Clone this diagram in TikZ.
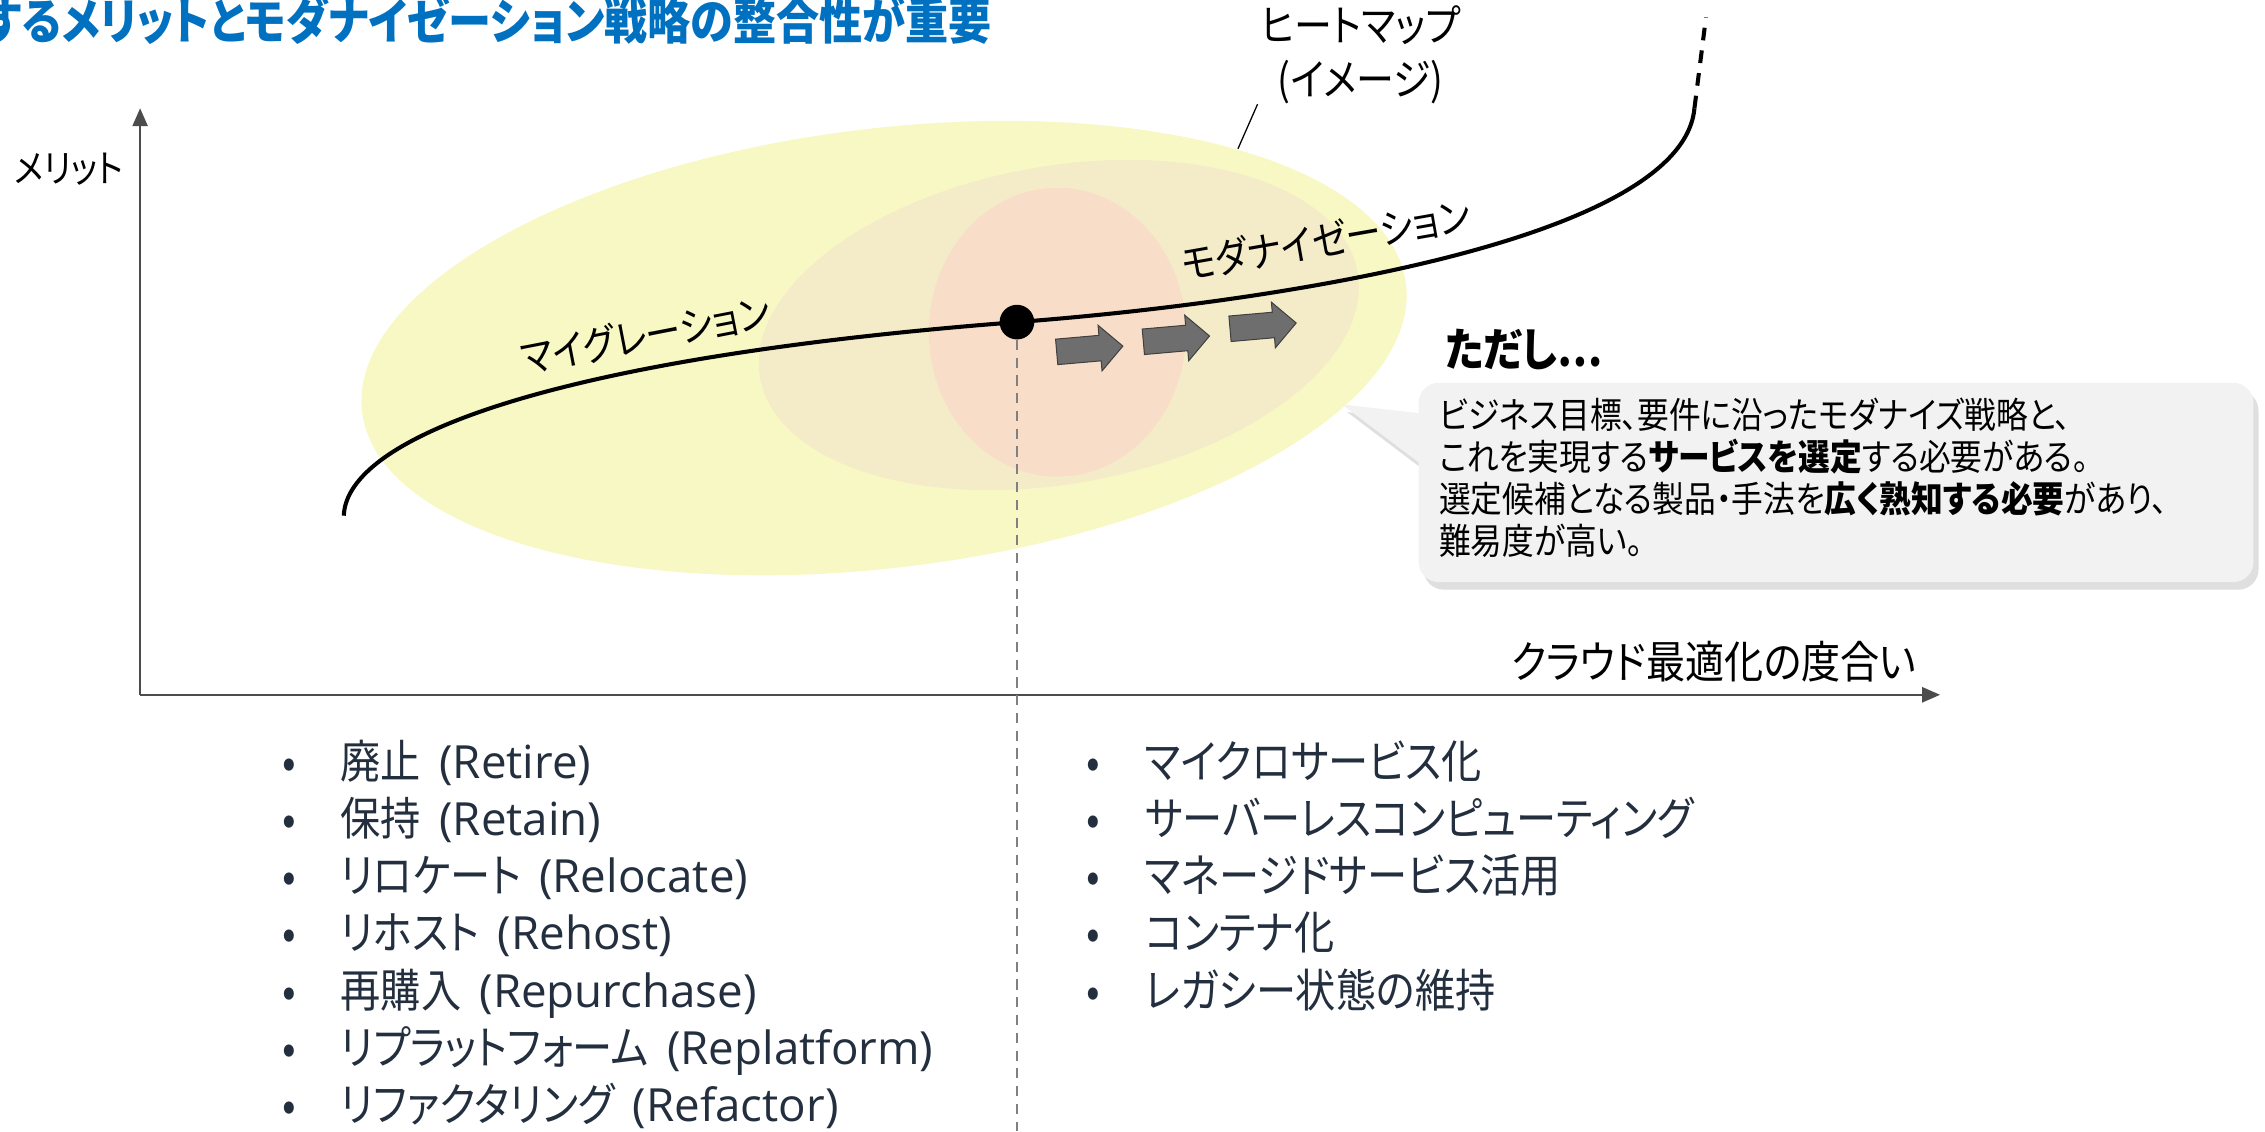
\documentclass[tikz,border=0pt]{standalone}
\usepackage{fontspec}
\setmainfont{Noto Sans CJK JP}[RawFeature=+palt, FakeStretch=0.88]
\newfontfamily\latinfont{Open Sans}
\usepackage{xcolor}
\usepackage{tikz}
\usetikzlibrary{shapes, shapes.arrows, arrows.meta, positioning, shadows}

\definecolor{titleblue}{RGB}{0,112,192}
\definecolor{listnavy}{RGB}{35,47,62}
\definecolor{heatouter}{RGB}{248,248,196}
\definecolor{heatmid}{RGB}{244,236,200}
\definecolor{heatcore}{RGB}{248,222,200}
\definecolor{stepgray}{RGB}{110,110,110}
\definecolor{notegray}{RGB}{242,242,242}

\newcommand{\lat}[1]{\hspace{0.4em}{\latinfont #1}}

\begin{document}
\begin{tikzpicture}[x=0.02cm, y=0.02cm,
        axis/.style={draw=black!70, line width=0.6pt, -{Triangle[length=7pt, width=6pt]}},
        lbl/.style={font=\fontsize{16}{20}\selectfont, inner sep=0pt},
        stepar/.style={single arrow, draw=black!75, fill=stepgray, line width=0.4pt,
            minimum height=0.92cm, inner xsep=0pt, inner ysep=0.17cm,
            single arrow head extend=0.14cm, rotate=5},
        listbox/.style={anchor=north west, inner sep=0pt, text=listnavy,
            font=\fontsize{18}{22.5}\selectfont, align=left}]
    \useasboundingbox (0,0) rectangle (1568,783);

    % heat map
    \fill[heatouter, rotate around={7:(612,542)}] (612,542) ellipse [x radius=364, y radius=152];
    \fill[heatmid, rotate around={10:(733,558)}] (733,558) ellipse [x radius=210, y radius=110];
    \fill[heatcore] (732,553) ellipse [x radius=89, y radius=100];

    \node[anchor=west, text=titleblue, font=\fontsize{19.3}{22}\selectfont\bfseries, inner sep=0pt] (title) at (-12,769)
        {するメリットとモダナイゼーション戦略の整合性が重要};

    \node[lbl, font=\fontsize{17}{21}\selectfont, align=center] (heatlbl) at (942,745) {ヒートマップ\\(イメージ)};
    \coordinate (leadend) at (857,680);
    \draw[black, line width=0.5pt] ([xshift=-0.04cm]heatlbl.south west) -- (leadend);

    % axes
    \coordinate (origin) at (97,302);
    \coordinate (ytop) at (97,708);
    \coordinate (xend) at (1343,302);
    \draw[axis] (origin) -- (ytop);
    \draw[axis] (origin) -- (xend);
    \node[lbl, font=\fontsize{15}{18}\selectfont] (yname) at (48,666) {メリット};
    \node[lbl, font=\fontsize{17.5}{20}\selectfont, anchor=east] (xname) at (1327,325) {クラウド最適化の度合い};

    % curve
    \coordinate (pivotpt) at (704,560);
    \coordinate (dropend) at (704,0);
    \draw[black!50, line width=0.9pt, dash pattern=on 4pt off 3pt] (pivotpt) -- (dropend);
    \coordinate (curvestart) at (238,426);
    \coordinate (curvetop) at (1173,708);
    \coordinate (dashtop) at (1181,771);
    \draw[line width=1.6pt] (curvestart) .. controls (240,480) and (380,535) .. (pivotpt)
        .. controls (900,575) and (1165,620) .. (curvetop);
    \draw[line width=1.6pt, dash pattern=on 5pt off 4pt] (curvetop) -- (dashtop);
    \node[circle, fill=black, minimum size=0.48cm, inner sep=0pt] (pivot) at (pivotpt) {};

    \node[lbl, rotate=11] (migr) at (447,551) {マイグレーション};
    \node[lbl, rotate=10] (modern) at (918,617) {モダナイゼーション};

    \node[stepar] (step1) at (750,541) {};
    \node[stepar] (step2) at (810,548) {};
    \node[stepar] (step3) at (870,557) {};

    % callout
    \node[anchor=west, font=\fontsize{18}{20}\selectfont\bfseries, inner sep=0pt] (caveat) at (1000,541) {ただし…};
    \fill[notegray, drop shadow={shadow xshift=2pt, shadow yshift=-3pt, opacity=0.25}]
        (982,463) [rounded corners=8pt] -- (982,380) -- (1560,380) -- (1560,518) -- (982,518)
        [sharp corners] -- (982,497) -- (929,503) -- cycle;
    \node[anchor=north west, align=left, font=\fontsize{14.2}{16.6}\selectfont, inner sep=0pt] (note) at (996,508)
        {ビジネス目標、要件に沿ったモダナイズ戦略と、\\
         これを実現する\textbf{サービスを選定}する必要がある。\\
         選定候補となる製品・手法を\textbf{広く熟知する必要}があり、\\
         難易度が高い。};

    % strategy lists
    \node[listbox] (oldlist) at (195,272) {
        \begin{tabular}{@{}l@{\hspace{0.62cm}}l@{}}
            • & 廃止\lat{(Retire)} \\
            • & 保持\lat{(Retain)} \\
            • & リロケート\lat{(Relocate)} \\
            • & リホスト\lat{(Rehost)} \\
            • & 再購入\lat{(Repurchase)} \\
            • & リプラットフォーム\lat{(Replatform)} \\
            • & リファクタリング\lat{(Refactor)}
        \end{tabular}
    };
    \node[listbox] (newlist) at (752,272) {
        \begin{tabular}{@{}l@{\hspace{0.62cm}}l@{}}
            • & マイクロサービス化 \\
            • & サーバーレスコンピューティング \\
            • & マネージドサービス活用 \\
            • & コンテナ化 \\
            • & レガシー状態の維持
        \end{tabular}
    };
\end{tikzpicture}
\end{document}
